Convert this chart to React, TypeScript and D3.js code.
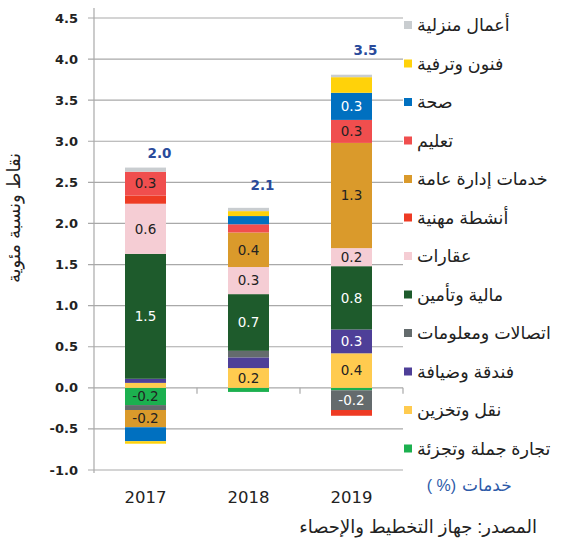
import { scaleLinear, scaleBand, stack, stackOffsetDiverging, stackOrderNone } from 'd3';

const years = ['2017', '2018', '2019'];

// stacking order, bottom to top
const sectors = [
  'تجارة جملة وتجزئة',
  'نقل وتخزين',
  'فندقة وضيافة',
  'اتصالات ومعلومات',
  'مالية وتأمين',
  'عقارات',
  'أنشطة مهنية',
  'خدمات إدارة عامة',
  'تعليم',
  'صحة',
  'فنون وترفية',
  'أعمال منزلية',
];

const colors = [
  '#1CB04F', '#FFCB4F', '#4E3F98', '#646B6D', '#1E5B2C', '#F5CDD4',
  '#EE3B24', '#DA9A2B', '#F04E4E', '#0070C0', '#FFD20A', '#C9CDD0',
];

const darkSectors = ['فندقة وضيافة', 'اتصالات ومعلومات', 'مالية وتأمين', 'صحة'];

// values per sector: 2017, 2018, 2019
const trade = [-0.21, -0.05, -0.03];
const transport = [0.06, 0.24, 0.42];
const hotels = [0.05, 0.13, 0.29];
const telecom = [-0.06, 0.08, -0.24];
const finance = [1.52, 0.69, 0.77];
const realEstate = [0.61, 0.33, 0.22];
const professional = [0.1, 0, -0.07];
const publicAdmin = [-0.21, 0.42, 1.28];
const education = [0.29, 0.1, 0.28];
const health = [-0.17, 0.1, 0.33];
const arts = [-0.03, 0.06, 0.19];
const household = [0.05, 0.04, 0.03];

const seriesValues = [trade, transport, hotels, telecom, finance, realEstate,
  professional, publicAdmin, education, health, arts, household];

// where the blue totals sit (value units)
const totalLabelPos = [2.85, 2.47, 4.11];

const yTicks = [-1, -0.5, 0, 0.5, 1, 1.5, 2, 2.5, 3, 3.5, 4, 4.5];

const W = 570, H = 551;

export default function App() {
  const y = scaleLinear().domain([-1, 4.5]).range([470, 18]);
  const x = scaleBand().domain(years).range([94, 403]).padding(0);
  const barW = 41;

  const rows = years.map((yr, i) => {
    const r: any = { year: yr };
    sectors.forEach((s, j) => { r[s] = seriesValues[j][i]; });
    return r;
  });
  const layers = stack<any>().keys(sectors).order(stackOrderNone).offset(stackOffsetDiverging)(rows);

  const totals = years.map((_, i) => seriesValues.reduce((a, s) => a + s[i], 0));
  const font = "'DejaVu Sans', sans-serif";
  const arFont = "'Liberation Sans', 'DejaVu Sans', sans-serif";

  return (
    <svg width={W} height={H} style={{ position: 'absolute', left: 0, top: 0, background: '#fff' }}>
      {/* grid */}
      {yTicks.map(t => (
        <line key={t} x1={88} x2={403} y1={y(t)} y2={y(t)} stroke="#A9A9A9" strokeWidth={1.2} />
      ))}
      <line x1={94} x2={94} y1={8} y2={473} stroke="#A9A9A9" strokeWidth={1.2} />
      {years.map(yr => (
        <line key={yr} x1={(x(yr) as number) + x.bandwidth()} x2={(x(yr) as number) + x.bandwidth()}
          y1={y(0)} y2={y(0) + 6} stroke="#A9A9A9" strokeWidth={1.2} />
      ))}
      {yTicks.map(t => (
        <text key={t} x={78} y={y(t)} dy="0.35em" textAnchor="end" fontFamily={font}
          fontWeight="bold" fontSize={13} fill="#222">{t.toFixed(1)}</text>
      ))}
      <text transform={`translate(20,${218}) rotate(-90)`} textAnchor="middle" fontFamily={arFont}
        fontSize={18} fill="#222">نقاط ونسبة مئوية</text>

      {/* bars */}
      {layers.map((layer, j) => (
        <g key={layer.key} fill={colors[j]}>
          {layer.map((d, i) => {
            const v = seriesValues[j][i];
            if (v === 0) return null;
            const top = y(Math.max(d[0], d[1]));
            const bot = y(Math.min(d[0], d[1]));
            const cx = (x(years[i]) as number) + x.bandwidth() / 2;
            return (
              <g key={i}>
                <rect x={cx - barW / 2} y={top} width={barW} height={bot - top} />
                {Math.abs(v) >= 0.2 && (
                  <text x={cx} y={(top + bot) / 2} dy="0.36em" textAnchor="middle" fontFamily={font}
                    fontSize={13.5} fill={darkSectors.includes(sectors[j]) ? '#fff' : '#222'}>
                    {v.toFixed(1)}
                  </text>
                )}
              </g>
            );
          })}
        </g>
      ))}

      {/* totals */}
      {years.map((yr, i) => (
        <text key={yr} x={(x(yr) as number) + x.bandwidth() / 2 + 14} y={y(totalLabelPos[i])} dy="0.36em"
          textAnchor="middle" fontFamily={font} fontWeight="bold" fontSize={13.5} fill="#2A4B9B">
          {totals[i].toFixed(1)}
        </text>
      ))}

      {/* categories */}
      {years.map(yr => (
        <text key={yr} x={(x(yr) as number) + x.bandwidth() / 2} y={497} dy="0.36em" textAnchor="middle"
          fontFamily={font} fontSize={16.5} fill="#222">{yr}</text>
      ))}

      {/* legend, top entry = last series */}
      {sectors.slice().reverse().map((s, k) => {
        const j = sectors.length - 1 - k;
        const ly = 25 + k * 38.5;
        return (
          <g key={s}>
            <rect x={404} y={ly - 4} width={8} height={8} fill={colors[j]} />
            <text x={417} y={ly} dy="0.35em" textAnchor="start" fontFamily={arFont} fontSize={17.5} fill="#222">{s}</text>
          </g>
        );
      })}

      <text x={456} y={485} dy="0.35em" textAnchor="end" fontFamily={arFont} fontSize={16} fill="#2D5AA8">( %)</text>
      <text x={462} y={485} dy="0.35em" textAnchor="start" fontFamily={arFont} fontSize={17} fill="#2D5AA8">خدمات</text>
      <text x={537} y={527} dy="0.35em" textAnchor="end" fontFamily={arFont} fontSize={18} fill="#222">المصدر: جهاز التخطيط والإحصاء</text>
    </svg>
  );
}
